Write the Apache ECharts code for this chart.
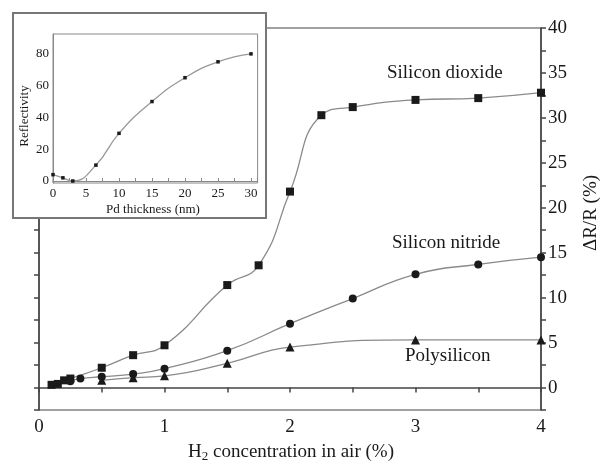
<!DOCTYPE html>
<html>
<head>
<meta charset="utf-8">
<script src="https://cdn.jsdelivr.net/npm/echarts@6/dist/echarts.min.js"></script>
<style>html,body{margin:0;padding:0;background:#fff;}#c{width:601px;height:461px;}</style>
</head>
<body>
<div id="c"></div>
<script>
// Main chart data: H2 concentration (%) vs ΔR/R (%)
const xDioxide = [0.1, 0.15, 0.2, 0.25, 0.5, 0.75, 1.0, 1.5, 1.75, 2.0, 2.25, 2.5, 3.0, 3.5, 4.0];
const yDioxide = [0.3, 0.4, 0.8, 1.0, 2.2, 3.6, 4.7, 11.4, 13.6, 21.8, 30.3, 31.2, 32.0, 32.2, 32.8];
const xNitride = [0.25, 0.33, 0.5, 0.75, 1.0, 1.5, 2.0, 2.5, 3.0, 3.5, 4.0];
const yNitride = [0.7, 1.0, 1.2, 1.5, 2.1, 4.1, 7.1, 9.9, 12.6, 13.7, 14.5];
const xPoly = [0.5, 0.75, 1.0, 1.5, 2.0, 3.0, 4.0];
const yPoly = [0.8, 1.1, 1.3, 2.7, 4.5, 5.3, 5.3];
const seriesNames = ['Silicon dioxide', 'Silicon nitride', 'Polysilicon'];
const xTickLabels = ['0', '1', '2', '3', '4'];
const yTickLabels = ['0', '5', '10', '15', '20', '25', '30', '35', '40'];

// Inset data: Pd thickness (nm) vs reflectivity
const xPd = [0, 1.5, 3, 6.5, 10, 15, 20, 25, 30];
const yRefl = [4, 2, 0, 10, 30, 50, 65, 75, 80];
const insetXTicks = ['0', '5', '10', '15', '20', '25', '30'];
const insetYTicks = ['0', '20', '40', '60', '80'];

const pairs = (xs, ys) => xs.map((x, i) => [x, ys[i]]);
const FONT = '"Liberation Serif", "Times New Roman", serif';
const ink = '#1a1a1a';
const curve = '#8a8a8a';

const chart = echarts.init(document.getElementById('c'), null, {renderer: 'canvas'});

function mainSeries(name, data, symbol, size) {
  return {
    name, type: 'line', xAxisIndex: 0, yAxisIndex: 0,
    data, smooth: 0.5,
    symbol, symbolSize: size, showSymbol: true,
    lineStyle: {color: curve, width: 1.3},
    itemStyle: {color: ink},
    z: 3, animation: false
  };
}

const option = {
  animation: false,
  backgroundColor: '#ffffff',
  grid: [
    {left: 39, right: 60, top: 28, bottom: 51, show: true, borderColor: '#444', borderWidth: 1.2, backgroundColor: 'transparent', z: 0},
    {left: 53, width: 204.6, top: 34, height: 149, show: true, borderColor: '#888', borderWidth: 1, backgroundColor: '#fff', z: 11}
  ],
  xAxis: [
    {
      gridIndex: 0, type: 'value', min: 0, max: 4, interval: 0.5,
      axisLine: {show: true, lineStyle: {color: '#444', width: 1.5}},
      axisTick: {show: true, inside: false, length: 5, lineStyle: {color: '#444', width: 1.5}},
      axisLabel: {
        margin: 8, color: ink, fontFamily: FONT, fontSize: 19,
        formatter: v => (Math.abs(v - Math.round(v)) < 1e-9 ? xTickLabels[Math.round(v)] : '')
      },
      splitLine: {show: false}
    },
    {
      gridIndex: 1, type: 'value', min: 0, max: 31, interval: 2.5,
      axisLine: {show: true, lineStyle: {color: '#888', width: 1}},
      axisTick: {show: true, inside: true, length: 3, lineStyle: {color: '#888'}},
      axisLabel: {
        margin: 4, color: ink, fontFamily: FONT, fontSize: 13,
        formatter: v => (v % 5 === 0 ? insetXTicks[v / 5] : '')
      },
      splitLine: {show: false}, z: 12
    }
  ],
  yAxis: [
    {
      gridIndex: 0, type: 'value', position: 'right', min: -2.5, max: 40, interval: 2.5,
      axisLine: {show: true, onZero: false, lineStyle: {color: '#444', width: 1.5}},
      axisTick: {show: true, inside: false, length: 5, lineStyle: {color: '#444', width: 1.5}},
      axisLabel: {
        margin: 7, color: ink, fontFamily: FONT, fontSize: 19,
        formatter: v => (v >= 0 && v % 5 === 0 ? yTickLabels[v / 5] : '')
      },
      splitLine: {show: false}
    },
    {
      gridIndex: 0, type: 'value', position: 'left', min: -2.5, max: 40, interval: 2.5,
      axisLine: {show: true, onZero: false, lineStyle: {color: '#444', width: 1.5}},
      axisTick: {show: true, inside: false, length: 5, lineStyle: {color: '#444', width: 1.5}},
      axisLabel: {show: false},
      splitLine: {show: false}
    },
    {
      gridIndex: 1, type: 'value', min: -1.25, max: 92.5, interval: 1.25,
      axisLine: {show: true, onZero: false, lineStyle: {color: '#888', width: 1}},
      axisTick: {show: false},
      axisLabel: {
        margin: 4, color: ink, fontFamily: FONT, fontSize: 13,
        formatter: v => (v >= 0 && v % 20 === 0 && v <= 80 ? insetYTicks[v / 20] : '')
      },
      splitLine: {show: false}, z: 12
    }
  ],
  series: [
    mainSeries(seriesNames[0], pairs(xDioxide, yDioxide), 'rect', 8),
    mainSeries(seriesNames[1], pairs(xNitride, yNitride), 'circle', 8),
    mainSeries(seriesNames[2], pairs(xPoly, yPoly), 'triangle', 9),
    {
      name: 'Reflectivity', type: 'line', xAxisIndex: 1, yAxisIndex: 2,
      data: pairs(xPd, yRefl), smooth: 0.5,
      symbol: 'rect', symbolSize: 3.5,
      lineStyle: {color: '#999', width: 1.3},
      itemStyle: {color: ink},
      z: 13, animation: false
    }
  ],
  graphic: [
    {
      type: 'rect', z: 10, silent: true,
      shape: {x: 13, y: 13, width: 253, height: 205},
      style: {fill: '#fff', stroke: '#777', lineWidth: 2}
    },
    {type: 'text', z: 20, left: 387, top: 64, style: {text: seriesNames[0], font: '19px ' + FONT, fill: ink}},
    {type: 'text', z: 20, left: 392, top: 234, style: {text: seriesNames[1], font: '19px ' + FONT, fill: ink}},
    {type: 'text', z: 20, left: 405, top: 347, style: {text: seriesNames[2], font: '19px ' + FONT, fill: ink}},
    {
      type: 'text', z: 20, x: 291, y: 452,
      style: {
        text: '{a|H}{s|2}{a| concentration in air (%)}',
        align: 'center', verticalAlign: 'middle',
        rich: {
          a: {fontFamily: FONT, fontSize: 19, fill: ink, verticalAlign: 'middle', lineHeight: 22},
          s: {fontFamily: FONT, fontSize: 13, fill: ink, verticalAlign: 'bottom', lineHeight: 13}
        }
      }
    },
    {
      type: 'text', z: 20, x: 591, y: 213, rotation: Math.PI / 2,
      style: {text: 'ΔR/R (%)', font: '19px ' + FONT, fill: ink, align: 'center', verticalAlign: 'middle'}
    },
    {
      type: 'text', z: 20, x: 25, y: 116, rotation: Math.PI / 2,
      style: {text: 'Reflectivity', font: '13px ' + FONT, fill: ink, align: 'center', verticalAlign: 'middle'}
    },
    {
      type: 'text', z: 20, x: 153, y: 210,
      style: {text: 'Pd thickness (nm)', font: '13px ' + FONT, fill: ink, align: 'center', verticalAlign: 'middle'}
    }
  ]
};
chart.setOption(option);
</script>
</body>
</html>
